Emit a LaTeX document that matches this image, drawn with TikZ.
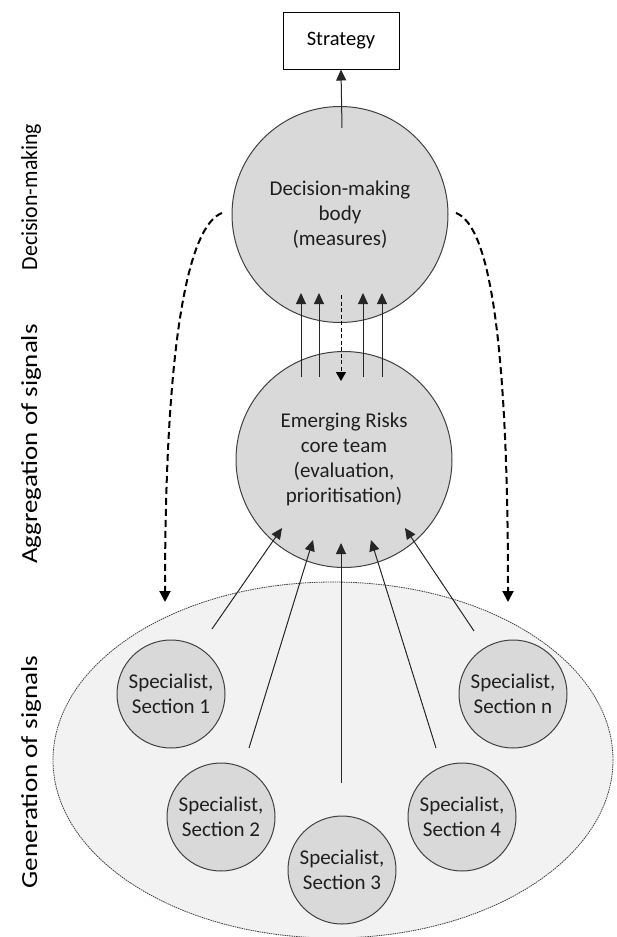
\documentclass[tikz,border=0pt]{standalone}
\usepackage{fontspec}
\setmainfont{Carlito}
\usetikzlibrary{arrows.meta,shapes.geometric}
\definecolor{circfill}{HTML}{D9D9D9}
\definecolor{ellfill}{HTML}{F2F2F2}
\definecolor{edge}{HTML}{404040}
\definecolor{txt}{HTML}{1F1F1F}
\begin{document}
\begin{tikzpicture}[x=1pt,y=-1pt,
  bigcirc/.style={circle,draw=edge,line width=1pt,fill=circfill,minimum size=216pt,inner sep=0pt,align=center,font=\fontsize{21}{25}\selectfont,text=txt},
  spec/.style={circle,draw=edge,line width=1pt,fill=circfill,minimum size=108pt,inner sep=0pt,align=center,font=\fontsize{21}{25}\selectfont,text=txt},
  flow/.style={line width=1pt,draw=black!85,-{Triangle[length=11pt,width=10pt]}},
  feedback/.style={line width=2pt,dash pattern=on 7pt off 4pt,-{Triangle[length=11pt,width=11pt]}},
  minorfb/.style={line width=0.9pt,dash pattern=on 4pt off 2.5pt,-{Triangle[length=9pt,width=10pt]}},
  sidelabel/.style={rotate=90,font=\fontsize{23}{27}\selectfont,text=black,inner sep=0pt},
  stratbox/.style={draw=black,line width=1pt,fill=white,minimum width=116pt,minimum height=57pt,inner sep=0pt,font=\fontsize{20.5}{24}\selectfont,text=black}
]
\useasboundingbox (0,0) rectangle (616,937);
\begin{scope}
\clip (0,0) rectangle (616,937);
% generation area
\node[ellipse, draw=edge, line width=0.8pt, dash pattern=on 1.5pt off 0.8pt, fill=ellfill,
      minimum width=560pt, minimum height=356pt, inner sep=0pt] (area) at (333,760) {};
\end{scope}

% side labels
\node[sidelabel] (lbl1) at (31,197) {\scalebox{0.95}[1]{Decision-making}};
\node[sidelabel] (lbl2) at (31,444) {\scalebox{1.17}[1]{Aggregation of signals}};
\node[sidelabel] (lbl3) at (31,772) {\scalebox{1.18}[1]{Generation of signals}};

% main nodes
\node[stratbox] (strat) at (341,40.5) {Strategy};
\node[bigcirc] (dm) at (340,214.5) {Decision-making\\body\\(measures)};
\node[bigcirc] (er) at (344,459.5) {Emerging Risks\\core team\\(evaluation,\\prioritisation)};

\node[spec] (s1) at (171,694) {Specialist,\\Section 1};
\node[spec] (s2) at (221,817) {Specialist,\\Section 2};
\node[spec] (s3) at (342,870) {Specialist,\\Section 3};
\node[spec] (s4) at (462,817) {Specialist,\\Section 4};
\node[spec] (sn) at (513,694) {Specialist,\\Section n};

% coordinates for free ends
\coordinate (dmtop) at (342,128);
\coordinate (a1s) at (301,377); \coordinate (a1e) at (301,293);
\coordinate (a2s) at (319,377); \coordinate (a2e) at (319,293);
\coordinate (a3s) at (363,377); \coordinate (a3e) at (363,293);
\coordinate (a4s) at (382,377); \coordinate (a4e) at (382,293);
\coordinate (fbs) at (341,295); \coordinate (fbe) at (341,381);

\coordinate (p1s) at (212,629); \coordinate (p1e) at (282,528);
\coordinate (p2s) at (249,748); \coordinate (p2e) at (313,540);
\coordinate (p3s) at (341,783); \coordinate (p3e) at (341,543);
\coordinate (p4s) at (436,748); \coordinate (p4e) at (371,540);
\coordinate (pns) at (474,631); \coordinate (pne) at (405,528);

\coordinate (ls) at (222,213); \coordinate (le) at (165,602);
\coordinate (rs) at (456,213); \coordinate (re) at (508,602);

% connectors
\draw[flow] (dmtop) -- (strat.south);
\draw[flow] (a1s) -- (a1e);
\draw[flow] (a2s) -- (a2e);
\draw[flow] (a3s) -- (a3e);
\draw[flow] (a4s) -- (a4e);
\draw[minorfb] (fbs) -- (fbe);

\draw[flow] (p1s) -- (p1e);
\draw[flow] (p2s) -- (p2e);
\draw[flow] (p3s) -- (p3e);
\draw[flow] (p4s) -- (p4e);
\draw[flow] (pns) -- (pne);

\draw[feedback] (ls) .. controls (190,225) and (165,330) .. (le);
\draw[feedback] (rs) .. controls (488,225) and (508,330) .. (re);
\end{tikzpicture}
\end{document}
